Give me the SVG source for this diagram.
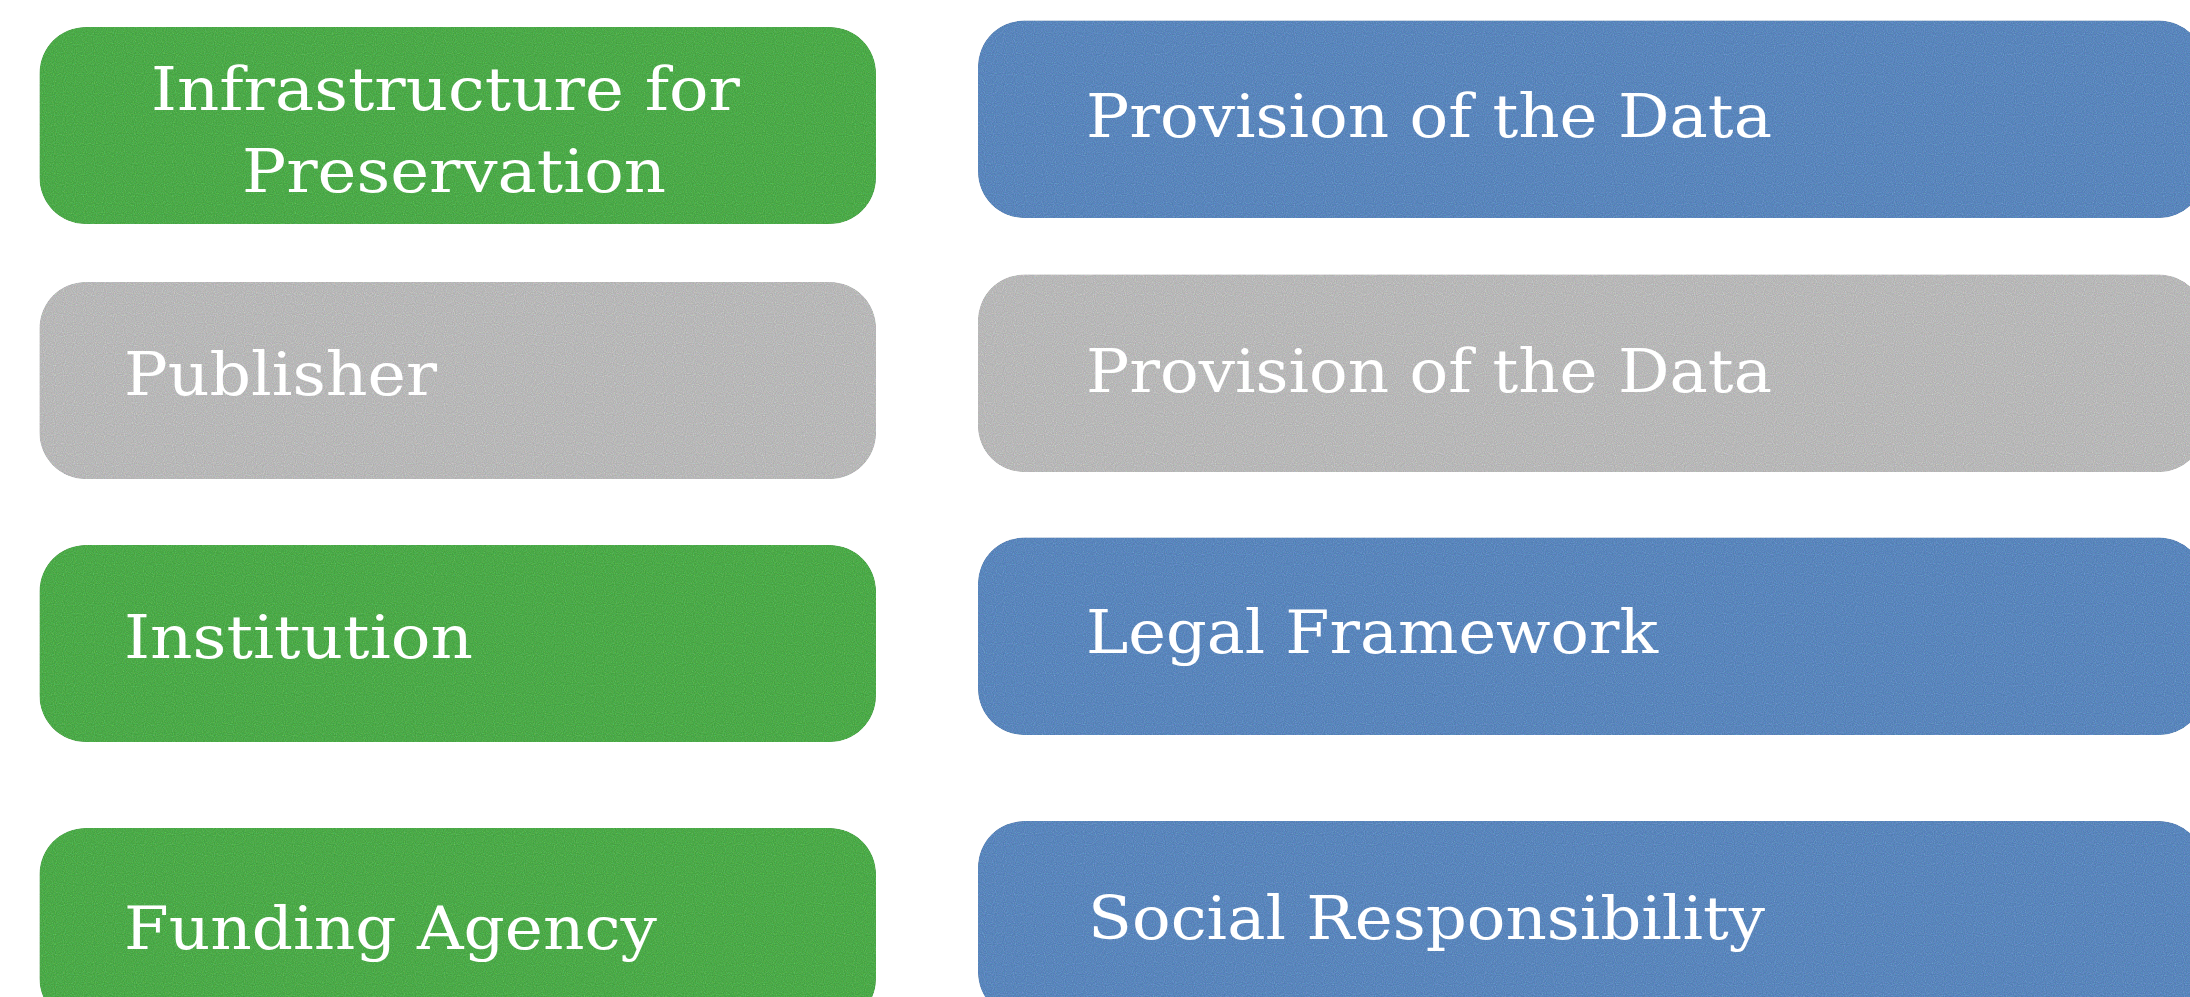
<svg xmlns="http://www.w3.org/2000/svg" width="2190" height="997" viewBox="0 0 2190 997">
  <defs>
    <filter id="grain" x="0" y="0" width="100%" height="100%" color-interpolation-filters="sRGB">
      <feTurbulence type="fractalNoise" baseFrequency="0.9" numOctaves="1" seed="4" result="n"/>
      <feComposite in="SourceGraphic" in2="n" operator="arithmetic" k1="0" k2="1" k3="0.3" k4="-0.08" result="m"/>
      <feComposite in="m" in2="SourceGraphic" operator="in"/>
    </filter>
    <style>
      .green { fill: #4dab4a; filter: url(#grain); }
      .blue { fill: #5b87bd; filter: url(#grain); }
      .gray { fill: #b9b9b9; filter: url(#grain); }
      .lbl { fill: #ffffff; font-family: "DejaVu Serif", "Liberation Serif", serif; font-size: 60px; }
    </style>
  </defs>
  <rect width="2190" height="997" fill="#ffffff"/>

  <g id="node-infrastructure">
    <rect class="green" x="39.5" y="27" width="836.5" height="197" rx="46" ry="46"/>
    <text class="lbl" x="151" y="110" textLength="589" lengthAdjust="spacingAndGlyphs">Infrastructure for</text>
    <text class="lbl" x="242" y="192" textLength="424" lengthAdjust="spacingAndGlyphs">Preservation</text>
  </g>
  <g id="node-publisher">
    <rect class="gray" x="39.5" y="282" width="836.5" height="197" rx="46" ry="46"/>
    <text class="lbl" x="124" y="395" textLength="313" lengthAdjust="spacingAndGlyphs">Publisher</text>
  </g>
  <g id="node-institution">
    <rect class="green" x="39.5" y="545" width="836.5" height="197" rx="46" ry="46"/>
    <text class="lbl" x="124" y="658" textLength="349" lengthAdjust="spacingAndGlyphs">Institution</text>
  </g>
  <g id="node-funding">
    <rect class="green" x="39.5" y="828" width="836.5" height="197" rx="46" ry="46"/>
    <text class="lbl" x="124" y="949" textLength="533" lengthAdjust="spacingAndGlyphs">Funding Agency</text>
  </g>

  <g id="node-provision-1">
    <rect class="blue" x="978" y="20.5" width="1227" height="197.5" rx="46" ry="46"/>
    <text class="lbl" x="1086" y="137" textLength="686" lengthAdjust="spacingAndGlyphs">Provision of the Data</text>
  </g>
  <g id="node-provision-2">
    <rect class="gray" x="978" y="274.5" width="1227" height="197.5" rx="46" ry="46"/>
    <text class="lbl" x="1086" y="392" textLength="686" lengthAdjust="spacingAndGlyphs">Provision of the Data</text>
  </g>
  <g id="node-legal">
    <rect class="blue" x="978" y="537.5" width="1227" height="197.5" rx="46" ry="46"/>
    <text class="lbl" x="1086" y="653" textLength="572" lengthAdjust="spacingAndGlyphs">Legal Framework</text>
  </g>
  <g id="node-social">
    <rect class="blue" x="978" y="821" width="1227" height="197.5" rx="46" ry="46"/>
    <text class="lbl" x="1088" y="939" textLength="677" lengthAdjust="spacingAndGlyphs">Social Responsibility</text>
  </g>

  <g id="connectors"></g>
</svg>
